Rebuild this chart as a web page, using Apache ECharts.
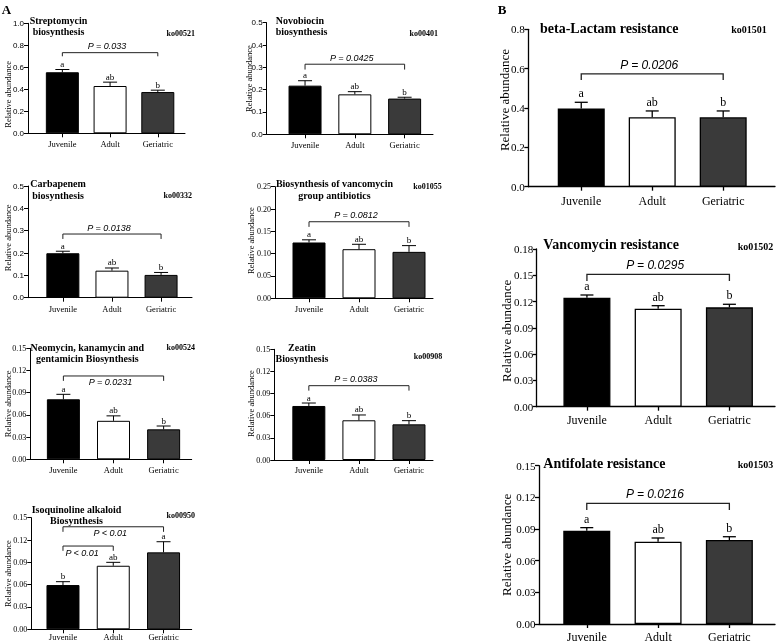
<!DOCTYPE html>
<html><head><meta charset="utf-8">
<script src="https://cdn.jsdelivr.net/npm/echarts@6/dist/echarts.min.js"></script>
<style>html,body{margin:0;padding:0;background:#fff}#c{width:778px;height:643px;filter:grayscale(100%)}</style>
</head><body><div id="c"></div>
<script>
// ---------------- DATA ----------------
const categories = ['Juvenile', 'Adult', 'Geriatric'];

// A1 Streptomycin biosynthesis
const streptomycinTitle = 'Streptomycin\nbiosynthesis';
const streptomycinKo = 'ko00521';
const streptomycinMean = [0.555, 0.430, 0.375];
const streptomycinSD = [0.025, 0.035, 0.017];
const streptomycinLetters = ['a', 'ab', 'b'];
const streptomycinBrackets = [[0, 2, 0.733, 0.700]];
const streptomycinP = ['P = 0.033'];
const streptomycinTicks = ['0.0', '0.2', '0.4', '0.6', '0.8', '1.0'];

// A2 Novobiocin biosynthesis
const novobiocinTitle = 'Novobiocin\nbiosynthesis';
const novobiocinKo = 'ko00401';
const novobiocinMean = [0.218, 0.179, 0.160];
const novobiocinSD = [0.022, 0.012, 0.006];
const novobiocinLetters = ['a', 'ab', 'b'];
const novobiocinBrackets = [[0, 2, 0.314, 0.290]];
const novobiocinP = ['P = 0.0425'];
const novobiocinTicks = ['0.0', '0.1', '0.2', '0.3', '0.4', '0.5'];

// A3 Carbapenem biosynthesis
const carbapenemTitle = 'Carbapenem\nbiosynthesis';
const carbapenemKo = 'ko00332';
const carbapenemMean = [0.199, 0.121, 0.102];
const carbapenemSD = [0.009, 0.012, 0.011];
const carbapenemLetters = ['a', 'ab', 'b'];
const carbapenemBrackets = [[0, 2, 0.285, 0.263]];
const carbapenemP = ['P = 0.0138'];
const carbapenemTicks = ['0.0', '0.1', '0.2', '0.3', '0.4', '0.5'];

// A4 Biosynthesis of vancomycin group antibiotics
const vancoGroupTitle = 'Biosynthesis of vancomycin\ngroup antibiotics';
const vancoGroupKo = 'ko01055';
const vancoGroupMean = [0.125, 0.110, 0.104];
const vancoGroupSD = [0.006, 0.011, 0.014];
const vancoGroupLetters = ['a', 'ab', 'b'];
const vancoGroupBrackets = [[0, 2, 0.1715, 0.160]];
const vancoGroupP = ['P = 0.0812'];
const vancoGroupTicks = ['0.00', '0.05', '0.10', '0.15', '0.20', '0.25'];

// A5 Neomycin, kanamycin and gentamicin biosynthesis
const neomycinTitle = 'Neomycin, kanamycin and\ngentamicin Biosynthesis';
const neomycinKo = 'ko00524';
const neomycinMean = [0.0811, 0.0520, 0.0405];
const neomycinSD = [0.0067, 0.0067, 0.0045];
const neomycinLetters = ['a', 'ab', 'b'];
const neomycinBrackets = [[0, 2, 0.1126, 0.106]];
const neomycinP = ['P = 0.0231'];
const neomycinTicks = ['0.00', '0.03', '0.06', '0.09', '0.12', '0.15'];

// A6 Zeatin biosynthesis
const zeatinTitle = 'Zeatin\nBiosynthesis';
const zeatinKo = 'ko00908';
const zeatinMean = [0.0732, 0.0538, 0.0483];
const zeatinSD = [0.0040, 0.0072, 0.0050];
const zeatinLetters = ['a', 'ab', 'b'];
const zeatinBrackets = [[0, 2, 0.1007, 0.094]];
const zeatinP = ['P = 0.0383'];
const zeatinTicks = ['0.00', '0.03', '0.06', '0.09', '0.12', '0.15'];

// A7 Isoquinoline alkaloid biosynthesis
const isoquinolineTitle = 'Isoquinoline alkaloid\nBiosynthesis';
const isoquinolineKo = 'ko00950';
const isoquinolineMean = [0.0595, 0.0854, 0.1034];
const isoquinolineSD = [0.0045, 0.0046, 0.0143];
const isoquinolineLetters = ['b', 'ab', 'a'];
const isoquinolineBrackets = [[0, 2, 0.1378, 0.131], [0, 1, 0.1119, 0.1055]];
const isoquinolineP = ['P < 0.01', 'P < 0.01'];
const isoquinolineTicks = ['0.00', '0.03', '0.06', '0.09', '0.12', '0.15'];

// B1 beta-Lactam resistance
const betaLactamTitle = 'beta-Lactam resistance';
const betaLactamKo = 'ko01501';
const betaLactamMean = [0.398, 0.353, 0.353];
const betaLactamSD = [0.031, 0.032, 0.032];
const betaLactamLetters = ['a', 'ab', 'b'];
const betaLactamBrackets = [[0, 2, 0.573, 0.542]];
const betaLactamP = ['P = 0.0206'];
const betaLactamTicks = ['0.0', '0.2', '0.4', '0.6', '0.8'];

// B2 Vancomycin resistance
const vancoResTitle = 'Vancomycin resistance';
const vancoResKo = 'ko01502';
const vancoResMean = [0.1244, 0.1119, 0.1134];
const vancoResSD = [0.0031, 0.0034, 0.0035];
const vancoResLetters = ['a', 'ab', 'b'];
const vancoResBrackets = [[0, 2, 0.1511, 0.1435]];
const vancoResP = ['P = 0.0295'];
const vancoResTicks = ['0.00', '0.03', '0.06', '0.09', '0.12', '0.15', '0.18'];

// B3 Antifolate resistance
const antifolateTitle = 'Antifolate resistance';
const antifolateKo = 'ko01503';
const antifolateMean = [0.0884, 0.0780, 0.0796];
const antifolateSD = [0.0029, 0.0035, 0.0031];
const antifolateLetters = ['a', 'ab', 'b'];
const antifolateBrackets = [[0, 2, 0.1143, 0.108]];
const antifolateP = ['P = 0.0216'];
const antifolateTicks = ['0.00', '0.03', '0.06', '0.09', '0.12', '0.15'];

const yName = 'Relative abundance';

// ---------------- STYLE / LAYOUT ----------------
const SERIF = "'Liberation Serif','Times New Roman',serif";
const SANS = "'Liberation Sans',Arial,sans-serif";
const fills = ['#000000', '#ffffff', '#3a3a3a'];

const SIZES = {
  A: {barW: 33, capW: 14, lw: 1, tickLen: 4, tickFs: 8, xFs: 8.5, nameFs: 8.5, titleFs: 10, titleLh: 11.5,
      koFs: 8, pFs: 9, letterFs: 9, letterGap: 1, pGap: 2, axisLw: 1, labelMargin: 4},
  B: {barW: 47, capW: 13, lw: 1.3, tickLen: 4, tickFs: 11, xFs: 12, nameFs: 13, titleFs: 14, titleLh: 16,
      koFs: 10, pFs: 12, letterFs: 12, letterGap: 3, pGap: 3, axisLw: 1.3, labelMargin: 3.5}
};

const panels = [
  {mean: streptomycinMean, sd: streptomycinSD, letters: streptomycinLetters, brackets: streptomycinBrackets, pLabels: streptomycinP, ticks: streptomycinTicks, title: streptomycinTitle, ko: streptomycinKo,
   L: {grid: [28, 23.3, 157, 110], xr: [-0.72, 2.57], size: 'A', tickFont: SANS, nameGap: 16, nameShift: 16, xMargin: 6.5, title: [58.5, 26.2, 'center'], koPos: [195, 33], pPlace: ['above']}},
  {mean: novobiocinMean, sd: novobiocinSD, letters: novobiocinLetters, brackets: novobiocinBrackets, pLabels: novobiocinP, ticks: novobiocinTicks, title: novobiocinTitle, ko: novobiocinKo,
   L: {grid: [266.7, 22.7, 166.3, 111.6], xr: [-0.77, 2.57], size: 'A', tickFont: SANS, nameGap: 13.5, nameShift: 0, xMargin: 5.7, title: [275.7, 26.2, 'left'], koPos: [438, 33], pPlace: ['above']}},
  {mean: carbapenemMean, sd: carbapenemSD, letters: carbapenemLetters, brackets: carbapenemBrackets, pLabels: carbapenemP, ticks: carbapenemTicks, title: carbapenemTitle, ko: carbapenemKo,
   L: {grid: [28, 186, 164, 111.7], xr: [-0.71, 2.63], size: 'A', tickFont: SANS, nameGap: 16, nameShift: -4, xMargin: 6.3, title: [58, 189.5, 'center'], koPos: [192, 195.7], pPlace: ['above']}},
  {mean: vancoGroupMean, sd: vancoGroupSD, letters: vancoGroupLetters, brackets: vancoGroupBrackets, pLabels: vancoGroupP, ticks: vancoGroupTicks, title: vancoGroupTitle, ko: vancoGroupKo,
   L: {grid: [275, 186.7, 158, 111.6], xr: [-0.68, 2.48], size: 'A', tickFont: SERIF, nameGap: 19.7, nameShift: -2, xMargin: 5.7, title: [334.5, 189.5, 'center'], koPos: [441.7, 186.7], pPlace: ['above']}},
  {mean: neomycinMean, sd: neomycinSD, letters: neomycinLetters, brackets: neomycinBrackets, pLabels: neomycinP, ticks: neomycinTicks, title: neomycinTitle, ko: neomycinKo,
   L: {grid: [30.3, 348.3, 161.4, 111], xr: [-0.66, 2.56], size: 'A', tickFont: SERIF, nameGap: 18.3, nameShift: 0, xMargin: 5.7, title: [87.3, 352.8, 'center'], koPos: [195, 347.3], pPlace: ['below']}},
  {mean: zeatinMean, sd: zeatinSD, letters: zeatinLetters, brackets: zeatinBrackets, pLabels: zeatinP, ticks: zeatinTicks, title: zeatinTitle, ko: zeatinKo,
   L: {grid: [274.3, 349.3, 158.7, 110.7], xr: [-0.69, 2.48], size: 'A', tickFont: SERIF, nameGap: 19, nameShift: -1, xMargin: 5, title: [302, 352.8, 'center'], koPos: [442.3, 356.7], pPlace: ['above']}},
  {mean: isoquinolineMean, sd: isoquinolineSD, letters: isoquinolineLetters, brackets: isoquinolineBrackets, pLabels: isoquinolineP, ticks: isoquinolineTicks, title: isoquinolineTitle, ko: isoquinolineKo,
   L: {grid: [31.3, 517.7, 160.4, 111.6], xr: [-0.63, 2.56], size: 'A', tickFont: SERIF, nameGap: 19.3, nameShift: 0, xMargin: 3, title: [76.5, 515, 'center'], koPos: [195, 515], pPlace: ['below', 'below'], pShift: [-3, -6]}},
  {mean: betaLactamMean, sd: betaLactamSD, letters: betaLactamLetters, brackets: betaLactamBrackets, pLabels: betaLactamP, ticks: betaLactamTicks, title: betaLactamTitle, ko: betaLactamKo,
   L: {grid: [528.3, 29.3, 246.7, 157.4], xr: [-0.746, 2.73], size: 'B', tickFont: SERIF, nameGap: 17, nameShift: -8, xMargin: 8, title: [540, 28.3, 'left'], koPos: [766.7, 29.3], pPlace: ['above']}},
  {mean: vancoResMean, sd: vancoResSD, letters: vancoResLetters, brackets: vancoResBrackets, pLabels: vancoResP, ticks: vancoResTicks, title: vancoResTitle, ko: vancoResKo,
   L: {grid: [536.7, 249, 238.3, 157.7], xr: [-0.705, 2.64], size: 'B', tickFont: SERIF, nameGap: 24, nameShift: 3, xMargin: 7, title: [543.3, 244.3, 'left'], koPos: [773.3, 246], pPlace: ['above']}},
  {mean: antifolateMean, sd: antifolateSD, letters: antifolateLetters, brackets: antifolateBrackets, pLabels: antifolateP, ticks: antifolateTicks, title: antifolateTitle, ko: antifolateKo,
   L: {grid: [539, 465.7, 236, 158.3], xr: [-0.67, 2.64], size: 'B', tickFont: SERIF, nameGap: 26.4, nameShift: 0, xMargin: 7.3, title: [543.3, 463.3, 'left'], koPos: [773.3, 464.3], pPlace: ['above']}}
];

// ---------------- BUILD ----------------
const chart = echarts.init(document.getElementById('c'), null, {renderer: 'svg'});
const option = {
  animation: false,
  backgroundColor: '#ffffff',
  grid: [], xAxis: [], yAxis: [], series: [],
  graphic: {elements: [
    {type: 'text', x: 6.5, y: 9, style: {text: 'A', font: "bold 13px " + SERIF, fill: '#000', textAlign: 'center', textVerticalAlign: 'middle'}},
    {type: 'text', x: 502, y: 9, style: {text: 'B', font: "bold 13px " + SERIF, fill: '#000', textAlign: 'center', textVerticalAlign: 'middle'}}
  ]}
};

panels.forEach((p, k) => {
  const L = p.L, S = SIZES[L.size];
  option.grid.push({left: L.grid[0], top: L.grid[1], width: L.grid[2], height: L.grid[3], containLabel: false, outerBoundsMode: 'none'});
  option.xAxis.push({
    gridIndex: k, type: 'value', min: L.xr[0], max: L.xr[1],
    axisLine: {show: true, onZero: false, lineStyle: {color: '#000', width: S.axisLw}},
    axisTick: {show: true, customValues: [0, 1, 2], length: S.tickLen, inside: false, lineStyle: {color: '#000', width: S.axisLw}},
    axisLabel: {show: true, customValues: [0, 1, 2], formatter: v => categories[Math.round(v)], fontFamily: SERIF, fontSize: S.xFs, color: '#000', margin: L.xMargin, hideOverlap: false},
    splitLine: {show: false}
  });
  const tv = p.ticks.map(Number);
  const ymin = tv[0], ymax = tv[tv.length - 1], yint = tv[1] - tv[0];
  const pad = L.nameShift >= 0 ? [0, 2 * L.nameShift, 0, 0] : [0, 0, 0, -2 * L.nameShift];
  option.yAxis.push({
    gridIndex: k, type: 'value', min: ymin, max: ymax, interval: yint,
    name: yName, nameLocation: 'middle', nameGap: L.nameGap, nameMoveOverlap: false,
    nameTextStyle: {fontFamily: SERIF, fontSize: S.nameFs, color: '#000', padding: pad},
    axisLine: {show: true, onZero: false, lineStyle: {color: '#000', width: S.axisLw}},
    axisTick: {show: true, length: S.tickLen, inside: false, lineStyle: {color: '#000', width: S.axisLw}},
    axisLabel: {show: true, fontFamily: L.tickFont, fontSize: S.tickFs, color: '#000', margin: S.labelMargin, hideOverlap: false,
      formatter: v => p.ticks[Math.round((v - ymin) / yint)]},
    splitLine: {show: false}
  });
  // bars
  option.series.push({
    type: 'bar', xAxisIndex: k, yAxisIndex: k, barWidth: S.barW, silent: true,
    data: p.mean.map((v, i) => ({value: [i, v], itemStyle: {color: fills[i]}})),
    itemStyle: {borderColor: '#000', borderWidth: S.lw},
    emphasis: {disabled: true}
  });
  // error bars + letters
  option.series.push({
    type: 'custom', xAxisIndex: k, yAxisIndex: k, silent: true, z: 5,
    data: p.mean.map((m, i) => [i, m, p.sd[i]]),
    encode: {x: 0, y: 1},
    renderItem: (params, api) => {
      const x = api.value(0), m = api.value(1), e = api.value(2);
      const p0 = api.coord([x, m]), p1 = api.coord([x, m + e]);
      const h = S.capW / 2;
      return {type: 'group', children: [
        {type: 'line', shape: {x1: p0[0], y1: p0[1], x2: p1[0], y2: p1[1]}, style: {stroke: '#000', lineWidth: S.lw}},
        {type: 'line', shape: {x1: p1[0] - h, y1: p1[1], x2: p1[0] + h, y2: p1[1]}, style: {stroke: '#000', lineWidth: S.lw}},
        {type: 'text', style: {text: p.letters[params.dataIndex], x: p1[0], y: p1[1] - S.letterGap,
          textAlign: 'center', textVerticalAlign: 'bottom', font: S.letterFs + 'px ' + SERIF, fill: '#000'}}
      ]};
    }
  });
  // significance brackets
  option.series.push({
    type: 'custom', xAxisIndex: k, yAxisIndex: k, silent: true, z: 5,
    data: p.brackets,
    encode: {x: [0, 1], y: [2, 3]},
    renderItem: (params, api) => {
      const x1 = api.value(0), x2 = api.value(1), yt = api.value(2), yb = api.value(3);
      const a = api.coord([x1, yt]), b = api.coord([x2, yt]);
      const a2 = api.coord([x1, yb]), b2 = api.coord([x2, yb]);
      const place = L.pPlace[params.dataIndex];
      const sh = L.pShift ? L.pShift[params.dataIndex] : -3;
      const tx = (a[0] + b[0]) / 2 + sh;
      const ty = place === 'above' ? a[1] - S.pGap : a[1] + S.pGap;
      return {type: 'group', children: [
        {type: 'polyline', shape: {points: [a2, a, b, b2]}, style: {stroke: '#222', lineWidth: S.lw, fill: 'none'}},
        {type: 'text', style: {text: p.pLabels[params.dataIndex], x: tx, y: ty, textAlign: 'center',
          textVerticalAlign: place === 'above' ? 'bottom' : 'top', font: 'italic ' + S.pFs + 'px ' + SANS, fill: '#000'}}
      ]};
    }
  });
  // title and KEGG code
  option.graphic.elements.push({type: 'text', x: L.title[0], y: L.title[1], style: {
    text: p.title, font: 'bold ' + S.titleFs + 'px ' + SERIF, fill: '#000', textAlign: L.title[2], textVerticalAlign: 'middle', lineHeight: S.titleLh}});
  option.graphic.elements.push({type: 'text', x: L.koPos[0], y: L.koPos[1], style: {
    text: p.ko, font: 'bold ' + S.koFs + 'px ' + SERIF, fill: '#000', textAlign: 'right', textVerticalAlign: 'middle'}});
});

chart.setOption(option);
</script>
</body></html>
